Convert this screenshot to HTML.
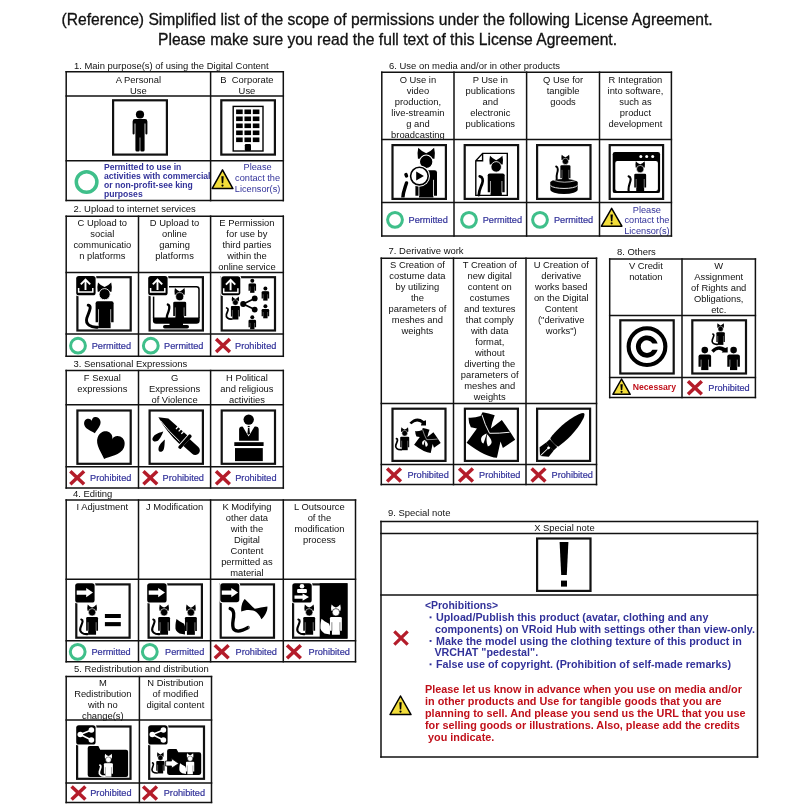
<!DOCTYPE html>
<html><head><meta charset="utf-8"><style>
html,body{margin:0;padding:0;background:#fff;width:810px;height:810px;overflow:hidden}
svg{display:block;font-family:"Liberation Sans",sans-serif;will-change:transform} text{white-space:pre}
</style></head><body>
<svg width="810" height="810" viewBox="0 0 810 810">
<text x="61.5" y="24.8" font-size="15.65" fill="#111" stroke="#111" stroke-width="0.3">(Reference) Simplified list of the scope of permissions under the following License Agreement.</text>
<text x="158" y="45.45" font-size="15.65" fill="#111" stroke="#111" stroke-width="0.3">Please make sure you read the full text of this License Agreement.</text>
<text x="74" y="68.7" font-size="9.45" text-anchor="start" font-weight="normal" fill="#111" >1. Main purpose(s) of using the Digital Content</text>
<text x="73.6" y="211.6" font-size="9.45" text-anchor="start" font-weight="normal" fill="#111" >2. Upload to internet services</text>
<text x="73.5" y="366.6" font-size="9.45" text-anchor="start" font-weight="normal" fill="#111" >3. Sensational Expressions</text>
<text x="73" y="496.8" font-size="9.45" text-anchor="start" font-weight="normal" fill="#111" >4. Editing</text>
<text x="74" y="671.6" font-size="9.45" text-anchor="start" font-weight="normal" fill="#111" >5. Redistribution and distribution</text>
<text x="389" y="68.6" font-size="9.45" text-anchor="start" font-weight="normal" fill="#111" >6. Use on media and/or in other products</text>
<text x="388.6" y="253.6" font-size="9.45" text-anchor="start" font-weight="normal" fill="#111" >7. Derivative work</text>
<text x="617" y="254.5" font-size="9.45" text-anchor="start" font-weight="normal" fill="#111" >8. Others</text>
<text x="388" y="516.4" font-size="9.45" text-anchor="start" font-weight="normal" fill="#111" >9. Special note</text>
<text x="138.4" y="82.8" font-size="9.4" text-anchor="middle" font-weight="normal" fill="#111" >A Personal</text>
<text x="138.4" y="93.8" font-size="9.4" text-anchor="middle" font-weight="normal" fill="#111" >Use</text>
<text x="246.95" y="82.8" font-size="9.4" text-anchor="middle" font-weight="normal" fill="#111" >B  Corporate</text>
<text x="246.95" y="93.8" font-size="9.4" text-anchor="middle" font-weight="normal" fill="#111" >Use</text>
<text x="102.35" y="225.8" font-size="9.4" text-anchor="middle" font-weight="normal" fill="#111" >C Upload to</text>
<text x="102.35" y="236.8" font-size="9.4" text-anchor="middle" font-weight="normal" fill="#111" >social</text>
<text x="102.35" y="247.8" font-size="9.4" text-anchor="middle" font-weight="normal" fill="#111" >communicatio</text>
<text x="102.35" y="258.8" font-size="9.4" text-anchor="middle" font-weight="normal" fill="#111" >n platforms</text>
<text x="174.55" y="225.8" font-size="9.4" text-anchor="middle" font-weight="normal" fill="#111" >D Upload to</text>
<text x="174.55" y="236.8" font-size="9.4" text-anchor="middle" font-weight="normal" fill="#111" >online</text>
<text x="174.55" y="247.8" font-size="9.4" text-anchor="middle" font-weight="normal" fill="#111" >gaming</text>
<text x="174.55" y="258.8" font-size="9.4" text-anchor="middle" font-weight="normal" fill="#111" >platforms</text>
<text x="246.95" y="225.8" font-size="9.4" text-anchor="middle" font-weight="normal" fill="#111" >E Permission</text>
<text x="246.95" y="236.8" font-size="9.4" text-anchor="middle" font-weight="normal" fill="#111" >for use by</text>
<text x="246.95" y="247.8" font-size="9.4" text-anchor="middle" font-weight="normal" fill="#111" >third parties</text>
<text x="246.95" y="258.8" font-size="9.4" text-anchor="middle" font-weight="normal" fill="#111" >within the</text>
<text x="246.95" y="269.8" font-size="9.4" text-anchor="middle" font-weight="normal" fill="#111" >online service</text>
<text x="102.35" y="380.6" font-size="9.4" text-anchor="middle" font-weight="normal" fill="#111" >F Sexual</text>
<text x="102.35" y="391.6" font-size="9.4" text-anchor="middle" font-weight="normal" fill="#111" >expressions</text>
<text x="174.55" y="380.6" font-size="9.4" text-anchor="middle" font-weight="normal" fill="#111" >G</text>
<text x="174.55" y="391.6" font-size="9.4" text-anchor="middle" font-weight="normal" fill="#111" >Expressions</text>
<text x="174.55" y="402.6" font-size="9.4" text-anchor="middle" font-weight="normal" fill="#111" >of Violence</text>
<text x="246.95" y="380.6" font-size="9.4" text-anchor="middle" font-weight="normal" fill="#111" >H Political</text>
<text x="246.95" y="391.6" font-size="9.4" text-anchor="middle" font-weight="normal" fill="#111" >and religious</text>
<text x="246.95" y="402.6" font-size="9.4" text-anchor="middle" font-weight="normal" fill="#111" >activities</text>
<text x="102.35" y="510.4" font-size="9.4" text-anchor="middle" font-weight="normal" fill="#111" >I Adjustment</text>
<text x="174.55" y="510.4" font-size="9.4" text-anchor="middle" font-weight="normal" fill="#111" >J Modification</text>
<text x="246.95" y="510.4" font-size="9.4" text-anchor="middle" font-weight="normal" fill="#111" >K Modifying</text>
<text x="246.95" y="521.4" font-size="9.4" text-anchor="middle" font-weight="normal" fill="#111" >other data</text>
<text x="246.95" y="532.4" font-size="9.4" text-anchor="middle" font-weight="normal" fill="#111" >with the</text>
<text x="246.95" y="543.4" font-size="9.4" text-anchor="middle" font-weight="normal" fill="#111" >Digital</text>
<text x="246.95" y="554.4" font-size="9.4" text-anchor="middle" font-weight="normal" fill="#111" >Content</text>
<text x="246.95" y="565.4" font-size="9.4" text-anchor="middle" font-weight="normal" fill="#111" >permitted as</text>
<text x="246.95" y="576.4" font-size="9.4" text-anchor="middle" font-weight="normal" fill="#111" >material</text>
<text x="319.4" y="510.4" font-size="9.4" text-anchor="middle" font-weight="normal" fill="#111" >L Outsource</text>
<text x="319.4" y="521.4" font-size="9.4" text-anchor="middle" font-weight="normal" fill="#111" >of the</text>
<text x="319.4" y="532.4" font-size="9.4" text-anchor="middle" font-weight="normal" fill="#111" >modification</text>
<text x="319.4" y="543.4" font-size="9.4" text-anchor="middle" font-weight="normal" fill="#111" >process</text>
<text x="102.80000000000001" y="685.6" font-size="9.4" text-anchor="middle" font-weight="normal" fill="#111" >M</text>
<text x="102.80000000000001" y="696.6" font-size="9.4" text-anchor="middle" font-weight="normal" fill="#111" >Redistribution</text>
<text x="102.80000000000001" y="707.6" font-size="9.4" text-anchor="middle" font-weight="normal" fill="#111" >with no</text>
<text x="102.80000000000001" y="718.6" font-size="9.4" text-anchor="middle" font-weight="normal" fill="#111" >change(s)</text>
<text x="175.45" y="685.6" font-size="9.4" text-anchor="middle" font-weight="normal" fill="#111" >N Distribution</text>
<text x="175.45" y="696.6" font-size="9.4" text-anchor="middle" font-weight="normal" fill="#111" >of modified</text>
<text x="175.45" y="707.6" font-size="9.4" text-anchor="middle" font-weight="normal" fill="#111" >digital content</text>
<text x="417.9" y="82.8" font-size="9.4" text-anchor="middle" font-weight="normal" fill="#111" >O Use in</text>
<text x="417.9" y="93.8" font-size="9.4" text-anchor="middle" font-weight="normal" fill="#111" >video</text>
<text x="417.9" y="104.8" font-size="9.4" text-anchor="middle" font-weight="normal" fill="#111" >production,</text>
<text x="417.9" y="115.8" font-size="9.4" text-anchor="middle" font-weight="normal" fill="#111" >live-streamin</text>
<text x="417.9" y="126.8" font-size="9.4" text-anchor="middle" font-weight="normal" fill="#111" >g and</text>
<text x="417.9" y="137.8" font-size="9.4" text-anchor="middle" font-weight="normal" fill="#111" >broadcasting</text>
<text x="490.3" y="82.8" font-size="9.4" text-anchor="middle" font-weight="normal" fill="#111" >P Use in</text>
<text x="490.3" y="93.8" font-size="9.4" text-anchor="middle" font-weight="normal" fill="#111" >publications</text>
<text x="490.3" y="104.8" font-size="9.4" text-anchor="middle" font-weight="normal" fill="#111" >and</text>
<text x="490.3" y="115.8" font-size="9.4" text-anchor="middle" font-weight="normal" fill="#111" >electronic</text>
<text x="490.3" y="126.8" font-size="9.4" text-anchor="middle" font-weight="normal" fill="#111" >publications</text>
<text x="563.05" y="82.8" font-size="9.4" text-anchor="middle" font-weight="normal" fill="#111" >Q Use for</text>
<text x="563.05" y="93.8" font-size="9.4" text-anchor="middle" font-weight="normal" fill="#111" >tangible</text>
<text x="563.05" y="104.8" font-size="9.4" text-anchor="middle" font-weight="normal" fill="#111" >goods</text>
<text x="635.45" y="82.8" font-size="9.4" text-anchor="middle" font-weight="normal" fill="#111" >R Integration</text>
<text x="635.45" y="93.8" font-size="9.4" text-anchor="middle" font-weight="normal" fill="#111" >into software,</text>
<text x="635.45" y="104.8" font-size="9.4" text-anchor="middle" font-weight="normal" fill="#111" >such as</text>
<text x="635.45" y="115.8" font-size="9.4" text-anchor="middle" font-weight="normal" fill="#111" >product</text>
<text x="635.45" y="126.8" font-size="9.4" text-anchor="middle" font-weight="normal" fill="#111" >development</text>
<text x="417.4" y="267.8" font-size="9.4" text-anchor="middle" font-weight="normal" fill="#111" >S Creation of</text>
<text x="417.4" y="278.8" font-size="9.4" text-anchor="middle" font-weight="normal" fill="#111" >costume data</text>
<text x="417.4" y="289.8" font-size="9.4" text-anchor="middle" font-weight="normal" fill="#111" >by utilizing</text>
<text x="417.4" y="300.8" font-size="9.4" text-anchor="middle" font-weight="normal" fill="#111" >the</text>
<text x="417.4" y="311.8" font-size="9.4" text-anchor="middle" font-weight="normal" fill="#111" >parameters of</text>
<text x="417.4" y="322.8" font-size="9.4" text-anchor="middle" font-weight="normal" fill="#111" >meshes and</text>
<text x="417.4" y="333.8" font-size="9.4" text-anchor="middle" font-weight="normal" fill="#111" >weights</text>
<text x="489.75" y="267.8" font-size="9.4" text-anchor="middle" font-weight="normal" fill="#111" >T Creation of</text>
<text x="489.75" y="278.8" font-size="9.4" text-anchor="middle" font-weight="normal" fill="#111" >new digital</text>
<text x="489.75" y="289.8" font-size="9.4" text-anchor="middle" font-weight="normal" fill="#111" >content on</text>
<text x="489.75" y="300.8" font-size="9.4" text-anchor="middle" font-weight="normal" fill="#111" >costumes</text>
<text x="489.75" y="311.8" font-size="9.4" text-anchor="middle" font-weight="normal" fill="#111" >and textures</text>
<text x="489.75" y="322.8" font-size="9.4" text-anchor="middle" font-weight="normal" fill="#111" >that comply</text>
<text x="489.75" y="333.8" font-size="9.4" text-anchor="middle" font-weight="normal" fill="#111" >with data</text>
<text x="489.75" y="344.8" font-size="9.4" text-anchor="middle" font-weight="normal" fill="#111" >format,</text>
<text x="489.75" y="355.8" font-size="9.4" text-anchor="middle" font-weight="normal" fill="#111" >without</text>
<text x="489.75" y="366.8" font-size="9.4" text-anchor="middle" font-weight="normal" fill="#111" >diverting the</text>
<text x="489.75" y="377.8" font-size="9.4" text-anchor="middle" font-weight="normal" fill="#111" >parameters of</text>
<text x="489.75" y="388.8" font-size="9.4" text-anchor="middle" font-weight="normal" fill="#111" >meshes and</text>
<text x="489.75" y="399.8" font-size="9.4" text-anchor="middle" font-weight="normal" fill="#111" >weights</text>
<text x="561.25" y="267.8" font-size="9.4" text-anchor="middle" font-weight="normal" fill="#111" >U Creation of</text>
<text x="561.25" y="278.8" font-size="9.4" text-anchor="middle" font-weight="normal" fill="#111" >derivative</text>
<text x="561.25" y="289.8" font-size="9.4" text-anchor="middle" font-weight="normal" fill="#111" >works based</text>
<text x="561.25" y="300.8" font-size="9.4" text-anchor="middle" font-weight="normal" fill="#111" >on the Digital</text>
<text x="561.25" y="311.8" font-size="9.4" text-anchor="middle" font-weight="normal" fill="#111" >Content</text>
<text x="561.25" y="322.8" font-size="9.4" text-anchor="middle" font-weight="normal" fill="#111" >(&quot;derivative</text>
<text x="561.25" y="333.8" font-size="9.4" text-anchor="middle" font-weight="normal" fill="#111" >works&quot;)</text>
<text x="645.85" y="269.0" font-size="9.4" text-anchor="middle" font-weight="normal" fill="#111" >V Credit</text>
<text x="645.85" y="280.0" font-size="9.4" text-anchor="middle" font-weight="normal" fill="#111" >notation</text>
<text x="718.7" y="269.0" font-size="9.4" text-anchor="middle" font-weight="normal" fill="#111" >W</text>
<text x="718.7" y="280.0" font-size="9.4" text-anchor="middle" font-weight="normal" fill="#111" >Assignment</text>
<text x="718.7" y="291.0" font-size="9.4" text-anchor="middle" font-weight="normal" fill="#111" >of Rights and</text>
<text x="718.7" y="302.0" font-size="9.4" text-anchor="middle" font-weight="normal" fill="#111" >Obligations,</text>
<text x="718.7" y="313.0" font-size="9.4" text-anchor="middle" font-weight="normal" fill="#111" >etc.</text>
<text x="564.4" y="531" font-size="9.4" text-anchor="middle" font-weight="normal" fill="#111" >X Special note</text>
<rect x="113.1" y="100.3" width="53.8" height="54.29999999999998" fill="none" stroke="#111" stroke-width="2.2"/>
<rect x="221.29999999999998" y="100.3" width="53.60000000000001" height="54.29999999999998" fill="none" stroke="#111" stroke-width="2.2"/>
<rect x="77.39999999999999" y="277.20000000000005" width="53.30000000000001" height="53.3" fill="none" stroke="#111" stroke-width="2.2"/>
<rect x="77.39999999999999" y="410.5" width="53.30000000000001" height="53.3" fill="none" stroke="#111" stroke-width="2.2"/>
<rect x="149.6" y="277.20000000000005" width="53.3" height="53.3" fill="none" stroke="#111" stroke-width="2.2"/>
<rect x="149.6" y="410.5" width="53.3" height="53.3" fill="none" stroke="#111" stroke-width="2.2"/>
<rect x="221.7" y="277.20000000000005" width="53.300000000000026" height="53.3" fill="none" stroke="#111" stroke-width="2.2"/>
<rect x="221.7" y="410.5" width="53.300000000000026" height="53.3" fill="none" stroke="#111" stroke-width="2.2"/>
<rect x="76.3" y="584.4" width="53.29999999999998" height="53.3" fill="none" stroke="#111" stroke-width="2.2"/>
<rect x="148.6" y="584.4" width="53.3" height="53.3" fill="none" stroke="#111" stroke-width="2.2"/>
<rect x="220.7" y="584.4" width="53.300000000000026" height="53.3" fill="none" stroke="#111" stroke-width="2.2"/>
<rect x="293.1" y="584.4" width="53.3" height="53.3" fill="none" stroke="#111" stroke-width="2.2"/>
<rect x="77.1" y="726.5" width="53.39999999999999" height="52.3" fill="none" stroke="#111" stroke-width="2.2"/>
<rect x="149.2" y="726.5" width="54.8" height="52.3" fill="none" stroke="#111" stroke-width="2.2"/>
<rect x="392.5" y="145.1" width="53.40000000000002" height="53.8" fill="none" stroke="#111" stroke-width="2.2"/>
<rect x="464.70000000000005" y="145.1" width="53.40000000000002" height="53.8" fill="none" stroke="#111" stroke-width="2.2"/>
<rect x="537.1" y="145.1" width="53.40000000000002" height="53.8" fill="none" stroke="#111" stroke-width="2.2"/>
<rect x="609.7" y="145.1" width="53.40000000000002" height="53.8" fill="none" stroke="#111" stroke-width="2.2"/>
<rect x="392.5" y="408.70000000000005" width="52.999999999999986" height="52.199999999999974" fill="none" stroke="#111" stroke-width="2.2"/>
<rect x="464.90000000000003" y="408.70000000000005" width="52.999999999999986" height="52.199999999999974" fill="none" stroke="#111" stroke-width="2.2"/>
<rect x="537.1" y="408.70000000000005" width="53.00000000000004" height="52.199999999999974" fill="none" stroke="#111" stroke-width="2.2"/>
<rect x="620.3000000000001" y="320.3" width="53.40000000000002" height="53.199999999999974" fill="none" stroke="#111" stroke-width="2.2"/>
<rect x="692.3000000000001" y="320.3" width="53.699999999999974" height="53.199999999999974" fill="none" stroke="#111" stroke-width="2.2"/>
<rect x="537.1" y="538.5" width="53.40000000000002" height="52.40000000000002" fill="none" stroke="#111" stroke-width="2.2"/>
<g transform="translate(140,114.5)"><circle cx="0" cy="0" r="4.1" fill="#000"/><path d="M-7.4,19 V7 Q-7.4,4.6 -5,4.6 H5 Q7.4,4.6 7.4,7 V19 Q7.4,20 6.4,20 Q5.5,20 5.4,19 V9 H4.6 V35.5 Q4.6,37 3,37 H1.6 Q0.3,37 0.3,35.5 V23 H-0.3 V35.5 Q-0.3,37 -1.6,37 H-3 Q-4.6,37 -4.6,35.5 V9 H-5.4 V19 Q-5.5,20 -6.4,20 Q-7.4,20 -7.4,19Z" fill="#000"/></g>
<rect x="233.2" y="106.4" width="29.8" height="44.6" fill="none" stroke="#000" stroke-width="1.4"/>
<rect x="236.1" y="109.5" width="6.6" height="4.6" fill="#000"/>
<rect x="244.45" y="109.5" width="6.6" height="4.6" fill="#000"/>
<rect x="252.79999999999998" y="109.5" width="6.6" height="4.6" fill="#000"/>
<rect x="236.1" y="116.5" width="6.6" height="4.6" fill="#000"/>
<rect x="244.45" y="116.5" width="6.6" height="4.6" fill="#000"/>
<rect x="252.79999999999998" y="116.5" width="6.6" height="4.6" fill="#000"/>
<rect x="236.1" y="123.5" width="6.6" height="4.6" fill="#000"/>
<rect x="244.45" y="123.5" width="6.6" height="4.6" fill="#000"/>
<rect x="252.79999999999998" y="123.5" width="6.6" height="4.6" fill="#000"/>
<rect x="236.1" y="130.5" width="6.6" height="4.6" fill="#000"/>
<rect x="244.45" y="130.5" width="6.6" height="4.6" fill="#000"/>
<rect x="252.79999999999998" y="130.5" width="6.6" height="4.6" fill="#000"/>
<rect x="236.1" y="137.5" width="6.6" height="4.6" fill="#000"/>
<rect x="244.45" y="137.5" width="6.6" height="4.6" fill="#000"/>
<rect x="252.79999999999998" y="137.5" width="6.6" height="4.6" fill="#000"/>
<rect x="244.8" y="144" width="6.2" height="7" rx="1.2" fill="#000"/>
<g transform="translate(104.6,294.2) scale(1.0)"><path d="M-6.6,-11.8 Q-3.4,-8.4 0,-7.2 Q3.4,-8.4 6.6,-11.8 Q7.8,-7 6.9,-2.5 L-6.9,-2.5 Q-7.8,-7 -6.6,-11.8Z" fill="#000"/><circle cx="0" cy="0" r="5.6" fill="#000" stroke="#fff" stroke-width="0.9"/><path d="M-9,28 L-9,9 Q-9,7 -7,7 L7,7 Q9,7 9,9 L9,28 Z" fill="#000"/><rect x="-6" y="8" width="12" height="26" fill="#000"/><path d="M-6.1,15 V28.5 M6.1,15 V28.5" stroke="#fff" stroke-width="0.7"/><path d="M-16.4,11 C-12,12 -16,18 -17.8,24 C-19.5,30 -14,33.5 -7,33" fill="none" stroke="#000" stroke-width="2.9" stroke-linecap="round"/></g>
<rect x="75.3" y="275.0" width="21.2" height="21.2" rx="3.2" fill="#fff"/><rect x="76.2" y="275.9" width="19.4" height="19.4" rx="2.6" fill="#000"/><g transform="translate(76.2,275.9)"></g>
<g transform="translate(76.2,275.9)"><path d="M9.3,14 V4.2 M4.6,8.4 L9.3,3.7 L14,8.4" fill="none" stroke="#fff" stroke-width="1.9" stroke-linejoin="miter"/><path d="M2.4,12 V16.2 H16.6 V12" fill="none" stroke="#fff" stroke-width="1.5"/></g>
<path d="M169,286.8 H196.5 Q199,286.8 199,289.3 V318 M153.6,296.5 V318" fill="none" stroke="#000" stroke-width="1.5"/>
<g transform="translate(179.7,296.6) scale(0.72)"><path d="M-6.6,-11.8 Q-3.4,-8.4 0,-7.2 Q3.4,-8.4 6.6,-11.8 Q7.8,-7 6.9,-2.5 L-6.9,-2.5 Q-7.8,-7 -6.6,-11.8Z" fill="#000"/><circle cx="0" cy="0" r="5.6" fill="#000" stroke="#fff" stroke-width="0.9"/><path d="M-9,27 L-9,9 Q-9,7 -7,7 L7,7 Q9,7 9,9 L9,27 Z" fill="#000"/><rect x="-6" y="8" width="12" height="22" fill="#000"/><path d="M-6.1,15 V27.5 M6.1,15 V27.5" stroke="#fff" stroke-width="0.7"/><path d="M-16.5,11 C-12.5,12 -15,20 -17.5,26 L-18,30" fill="none" stroke="#000" stroke-width="3.2" stroke-linecap="round"/></g>
<path d="M152.9,317.6 H199.7 V320.6 Q199.7,323.8 196.5,323.8 H156.1 Q152.9,323.8 152.9,320.6Z" fill="#000"/>
<rect x="169.5" y="322" width="13.5" height="5" fill="#000"/><rect x="163" y="325" width="26" height="3.6" rx="1.8" fill="#000"/>
<rect x="147.29999999999998" y="275.0" width="21.2" height="21.2" rx="3.2" fill="#fff"/><rect x="148.2" y="275.9" width="19.4" height="19.4" rx="2.6" fill="#000"/><g transform="translate(148.2,275.9)"></g>
<g transform="translate(148.2,275.9)"><path d="M9.3,14 V4.2 M4.6,8.4 L9.3,3.7 L14,8.4" fill="none" stroke="#fff" stroke-width="1.9" stroke-linejoin="miter"/><path d="M2.4,12 V16.2 H16.6 V12" fill="none" stroke="#fff" stroke-width="1.5"/></g>
<rect x="220.4" y="275.3" width="20.8" height="20.8" rx="3.2" fill="#fff"/><rect x="221.3" y="276.2" width="19" height="19" rx="2.6" fill="#000"/><g transform="translate(221.3,276.2)"></g>
<g transform="translate(221.3,276.2)"><path d="M9.3,14 V4.2 M4.6,8.4 L9.3,3.7 L14,8.4" fill="none" stroke="#fff" stroke-width="1.9" stroke-linejoin="miter"/><path d="M2.4,12 V16.2 H16.6 V12" fill="none" stroke="#fff" stroke-width="1.5"/></g>
<g transform="translate(235.4,302.5) scale(0.5)"><path d="M-6.6,-11.8 Q-3.4,-8.4 0,-7.2 Q3.4,-8.4 6.6,-11.8 Q7.8,-7 6.9,-2.5 L-6.9,-2.5 Q-7.8,-7 -6.6,-11.8Z" fill="#000"/><circle cx="0" cy="0" r="5.6" fill="#000" stroke="#fff" stroke-width="0.9"/><path d="M-9,28 L-9,9 Q-9,7 -7,7 L7,7 Q9,7 9,9 L9,28 Z" fill="#000"/><rect x="-6" y="8" width="12" height="26" fill="#000"/><path d="M-6.1,15 V28.5 M6.1,15 V28.5" stroke="#fff" stroke-width="0.7"/><path d="M-17.5,11 C-12,12 -16,18 -18,24 C-19.5,30 -14,33.5 -7,33" fill="none" stroke="#000" stroke-width="3.5" stroke-linecap="round"/></g>
<path d="M243.2,304 L254.7,298.4 M243.2,304 L254.7,309.6" stroke="#000" stroke-width="1.7"/>
<circle cx="243.2" cy="304" r="3" fill="#000"/><circle cx="254.7" cy="298.4" r="2.9" fill="#000"/><circle cx="254.7" cy="309.6" r="2.9" fill="#000"/>
<g transform="translate(252.3,280.8) scale(0.6)"><circle cx="0" cy="0" r="3.3" fill="#000"/><path d="M-6.3,16.6 V6.4 Q-6.3,4.4 -4.3,4.4 H4.3 Q6.3,4.4 6.3,6.4 V16.6Z" fill="#000"/><rect x="-3.6" y="5" width="7.2" height="15" fill="#000"/><path d="M-3.7,9.5 V17 M3.7,9.5 V17" stroke="#fff" stroke-width="0.5"/></g>
<g transform="translate(265.4,288.6) scale(0.6)"><circle cx="0" cy="0" r="3.3" fill="#000"/><path d="M-6.3,16.6 V6.4 Q-6.3,4.4 -4.3,4.4 H4.3 Q6.3,4.4 6.3,6.4 V16.6Z" fill="#000"/><rect x="-3.6" y="5" width="7.2" height="15" fill="#000"/><path d="M-3.7,9.5 V17 M3.7,9.5 V17" stroke="#fff" stroke-width="0.5"/></g>
<g transform="translate(265.4,306.3) scale(0.6)"><circle cx="0" cy="0" r="3.3" fill="#000"/><path d="M-6.3,16.6 V6.4 Q-6.3,4.4 -4.3,4.4 H4.3 Q6.3,4.4 6.3,6.4 V16.6Z" fill="#000"/><rect x="-3.6" y="5" width="7.2" height="15" fill="#000"/><path d="M-3.7,9.5 V17 M3.7,9.5 V17" stroke="#fff" stroke-width="0.5"/></g>
<g transform="translate(252.3,317.2) scale(0.6)"><circle cx="0" cy="0" r="3.3" fill="#000"/><path d="M-6.3,16.6 V6.4 Q-6.3,4.4 -4.3,4.4 H4.3 Q6.3,4.4 6.3,6.4 V16.6Z" fill="#000"/><rect x="-3.6" y="5" width="7.2" height="15" fill="#000"/><path d="M-3.7,9.5 V17 M3.7,9.5 V17" stroke="#fff" stroke-width="0.5"/></g>
<path d="M0,0.9 C-0.25,0.62 -1,0.2 -1,-0.36 C-1,-0.78 -0.72,-1 -0.46,-1 C-0.2,-1 0,-0.82 0,-0.58 C0,-0.82 0.2,-1 0.46,-1 C0.72,-1 1,-0.78 1,-0.36 C1,0.2 0.25,0.62 0,0.9Z" transform="translate(93.1,426.0) rotate(-14) scale(8.3,8.3)" fill="#000"/>
<path d="M0,0.9 C-0.25,0.62 -1,0.2 -1,-0.36 C-1,-0.78 -0.72,-1 -0.46,-1 C-0.2,-1 0,-0.82 0,-0.58 C0,-0.82 0.2,-1 0.46,-1 C0.72,-1 1,-0.78 1,-0.36 C1,0.2 0.25,0.62 0,0.9Z" transform="translate(108.9,447.2) rotate(22) scale(14.1,14.1)" fill="#000"/>
<g transform="translate(158.4,417.2) rotate(42)"><path d="M0,0 L8.2,-5.8 L33.6,-5.8 L33.6,5.9 Q15,5.2 0,0Z" fill="#000"/><path d="M21,-6.5 V-3 M24.6,-6.5 V-3 M28.2,-6.5 V-3" stroke="#fff" stroke-width="1.3"/><path d="M4,1.2 Q17,3.6 32,3.8" fill="none" stroke="#fff" stroke-width="0.9"/><rect x="34.4" y="-8.6" width="3.4" height="18" rx="1.4" fill="#000"/><path d="M37.8,-4.6 H49.6 A4.6,4.6 0 0 1 49.6,4.6 H37.8Z" fill="#000"/></g>
<path d="M163.3,431.6 C161,432.3 156,433.5 153.5,436.5 C151.5,439 152.5,441.5 155.2,441.6 C158.4,441.6 160.5,438.5 163.3,431.6Z" fill="#000"/>
<path d="M164.8,439.6 C162.6,441.5 159,445 158.5,448.5 C158.1,451 159.6,452.1 161.4,451.8 C164,451.2 164.6,447.6 164.8,439.6Z" fill="#000"/>
<circle cx="248.7" cy="419.6" r="5.2" fill="#000"/>
<path d="M239.1,440.8 V429.5 Q239.1,426.4 242.2,426.4 H255.6 Q258.7,426.4 258.7,429.5 V440.8Z" fill="#000"/>
<path d="M242.2,425.8 L248.6,436.6 L255,425.8Z" fill="#fff"/>
<rect x="247.7" y="425.9" width="2" height="1.3" fill="#000"/><path d="M248,428 H249.4 L249.9,433.2 L248.7,435 L247.5,433.2Z" fill="#000"/>
<rect x="234.3" y="442.2" width="29.3" height="3.8" fill="#000"/>
<rect x="235" y="448.1" width="27.8" height="13" fill="#000"/>
<g transform="translate(92.1,612.3) scale(0.66)"><path d="M-6.6,-11.8 Q-3.4,-8.4 0,-7.2 Q3.4,-8.4 6.6,-11.8 Q7.8,-7 6.9,-2.5 L-6.9,-2.5 Q-7.8,-7 -6.6,-11.8Z" fill="#000"/><circle cx="0" cy="0" r="5.6" fill="#000" stroke="#fff" stroke-width="0.9"/><path d="M-9,28 L-9,9 Q-9,7 -7,7 L7,7 Q9,7 9,9 L9,28 Z" fill="#000"/><rect x="-6" y="8" width="12" height="26" fill="#000"/><path d="M-6.1,15 V28.5 M6.1,15 V28.5" stroke="#fff" stroke-width="0.7"/><path d="M-16.4,11 C-12,12 -16,18 -17.8,24 C-19.5,30 -14,33.5 -7,33" fill="none" stroke="#000" stroke-width="3.2" stroke-linecap="round"/></g>
<rect x="104.9" y="614" width="15.9" height="4" fill="#000"/><rect x="104.9" y="622.1" width="15.9" height="4.1" fill="#000"/>
<rect x="74.3" y="582.3000000000001" width="21.2" height="21.2" rx="3.2" fill="#fff"/><rect x="75.2" y="583.2" width="19.4" height="19.4" rx="2.6" fill="#000"/><g transform="translate(75.2,583.2)"></g>
<g transform="translate(75.2,583.2)"><path d="M1.5,7.4 H11 V4.8 L17.8,9.4 L11,14 V11.5 H1.5Z" fill="#fff"/></g>
<g transform="translate(164.1,612.3) scale(0.66)"><path d="M-6.6,-11.8 Q-3.4,-8.4 0,-7.2 Q3.4,-8.4 6.6,-11.8 Q7.8,-7 6.9,-2.5 L-6.9,-2.5 Q-7.8,-7 -6.6,-11.8Z" fill="#000"/><circle cx="0" cy="0" r="5.6" fill="#000" stroke="#fff" stroke-width="0.9"/><path d="M-9,28 L-9,9 Q-9,7 -7,7 L7,7 Q9,7 9,9 L9,28 Z" fill="#000"/><rect x="-6" y="8" width="12" height="26" fill="#000"/><path d="M-6.1,15 V28.5 M6.1,15 V28.5" stroke="#fff" stroke-width="0.7"/><path d="M-16.4,11 C-12,12 -16,18 -17.8,24 C-19.5,30 -14,33.5 -7,33" fill="none" stroke="#000" stroke-width="3.2" stroke-linecap="round"/></g>
<g transform="translate(190.9,612.4) scale(0.66)"><path d="M-6.6,-11.8 Q-3.4,-8.4 0,-7.2 Q3.4,-8.4 6.6,-11.8 Q7.8,-7 6.9,-2.5 L-6.9,-2.5 Q-7.8,-7 -6.6,-11.8Z" fill="#000"/><circle cx="0" cy="0" r="5.6" fill="#000" stroke="#fff" stroke-width="0.9"/><path d="M-9,28 L-9,9 Q-9,7 -7,7 L7,7 Q9,7 9,9 L9,28 Z" fill="#000"/><rect x="-6" y="8" width="12" height="26" fill="#000"/><path d="M-6.1,15 V28.5 M6.1,15 V28.5" stroke="#fff" stroke-width="0.7"/><path d="M-21.8,9.9 L-17.2,13.4 L-10.4,17.2 L-9,21 L-9,33.5 L-17.2,32 C-22,29 -24,26 -23.4,22 C-23.5,17 -22.6,13 -21.8,9.9Z" fill="#000"/></g>
<rect x="146.29999999999998" y="582.3000000000001" width="21.2" height="21.2" rx="3.2" fill="#fff"/><rect x="147.2" y="583.2" width="19.4" height="19.4" rx="2.6" fill="#000"/><g transform="translate(147.2,583.2)"></g>
<g transform="translate(147.2,583.2)"><path d="M1.5,7.4 H11 V4.8 L17.8,9.4 L11,14 V11.5 H1.5Z" fill="#fff"/></g>
<rect x="219.4" y="582.3000000000001" width="20.8" height="20.8" rx="3.2" fill="#fff"/><rect x="220.3" y="583.2" width="19" height="19" rx="2.6" fill="#000"/><g transform="translate(220.3,583.2)"></g>
<g transform="translate(220.3,583.2)"><path d="M1.5,7.4 H11 V4.8 L17.8,9.4 L11,14 V11.5 H1.5Z" fill="#fff"/></g>
<path d="M241.2,611.6 C241,606 242.5,601 244.8,599 C247.5,601.5 251.5,606 254.8,608.8 C258.5,608 263,606.8 267.4,606.4 C267.8,611 264.5,616.5 261.4,619.2 C259.5,615 256.5,611.5 253,610.5 C249,609.5 244.5,610 241.2,611.6Z" fill="#000"/>
<path d="M230.2,608.6 C233,609.2 234.2,612 233.6,617 C233,621.5 231.5,626.5 234,629.5 C237,632.5 243,630.5 248.2,627.6" fill="none" stroke="#000" stroke-width="3.4" stroke-linecap="round"/>
<path d="M248.5,626.5 L249.2,629 M249.8,626.2 L250.4,628.6" stroke="#fff" stroke-width="0.5"/>
<rect x="319.7" y="583.2" width="27.8" height="55.2" fill="#000"/>
<g transform="translate(309.2,612.3) scale(0.66)"><path d="M-6.6,-11.8 Q-3.4,-8.4 0,-7.2 Q3.4,-8.4 6.6,-11.8 Q7.8,-7 6.9,-2.5 L-6.9,-2.5 Q-7.8,-7 -6.6,-11.8Z" fill="#000"/><circle cx="0" cy="0" r="5.6" fill="#000" stroke="#fff" stroke-width="0.9"/><path d="M-9,28 L-9,9 Q-9,7 -7,7 L7,7 Q9,7 9,9 L9,28 Z" fill="#000"/><rect x="-6" y="8" width="12" height="26" fill="#000"/><path d="M-6.1,15 V28.5 M6.1,15 V28.5" stroke="#fff" stroke-width="0.7"/><path d="M-16.4,11 C-12,12 -16,18 -17.8,24 C-19.5,30 -14,33.5 -7,33" fill="none" stroke="#000" stroke-width="3.2" stroke-linecap="round"/></g>
<g transform="translate(335.9,612.3) scale(0.66)"><path d="M-6.6,-11.8 Q-3.4,-8.4 0,-7.2 Q3.4,-8.4 6.6,-11.8 Q7.8,-7 6.9,-2.5 L-6.9,-2.5 Q-7.8,-7 -6.6,-11.8Z" fill="#fff"/><circle cx="0" cy="0" r="5.6" fill="#fff" stroke="#000" stroke-width="0.9"/><path d="M-9,28 L-9,9 Q-9,7 -7,7 L7,7 Q9,7 9,9 L9,28 Z" fill="#fff"/><rect x="-6" y="8" width="12" height="26" fill="#fff"/><path d="M-6.1,15 V28.5 M6.1,15 V28.5" stroke="#000" stroke-width="0.7"/><path d="M-21.8,9.9 L-17.2,13.4 L-10.4,17.2 L-9,21 L-9,33.5 L-17.2,32 C-22,29 -24,26 -23.4,22 C-23.5,17 -22.6,13 -21.8,9.9Z" fill="#fff"/></g>
<rect x="291.40000000000003" y="582.3000000000001" width="21.2" height="21.2" rx="3.2" fill="#fff"/><rect x="292.3" y="583.2" width="19.4" height="19.4" rx="2.6" fill="#000"/><g transform="translate(292.3,583.2)"></g>
<g transform="translate(292.3,583.2)"><circle cx="9.7" cy="3" r="2.3" fill="#fff"/><rect x="4.8" y="5.9" width="9.8" height="3.9" rx="1" fill="#fff"/><path d="M2.2,12.3 H10.3 V10.3 L16.7,13.9 L10.3,17.5 V15.5 H2.2Z" fill="#fff"/></g>
<path d="M87.7,748 Q87.7,746 89.7,746 H98.4 L100.2,749.7 H126.1 Q128.1,749.7 128.1,751.7 V775 Q128.1,777 126.1,777 H89.7 Q87.7,777 87.7,775Z" fill="#000"/>
<g transform="translate(108.4,759.7) scale(0.5)"><path d="M-6.6,-11.8 Q-3.4,-8.4 0,-7.2 Q3.4,-8.4 6.6,-11.8 Q7.8,-7 6.9,-2.5 L-6.9,-2.5 Q-7.8,-7 -6.6,-11.8Z" fill="#fff"/><circle cx="0" cy="0" r="5.6" fill="#fff" stroke="#000" stroke-width="0.9"/><path d="M-9,28 L-9,9 Q-9,7 -7,7 L7,7 Q9,7 9,9 L9,28 Z" fill="#fff"/><rect x="-6" y="8" width="12" height="26" fill="#fff"/><path d="M-6.1,15 V28.5 M6.1,15 V28.5" stroke="#000" stroke-width="0.7"/><path d="M-17,11 C-13,12 -16.5,18 -18,24 C-19.5,30 -14,33.5 -7,33" fill="none" stroke="#fff" stroke-width="3.5" stroke-linecap="round"/></g>
<rect x="75.3" y="724.3000000000001" width="21.2" height="21.2" rx="3.2" fill="#fff"/><rect x="76.2" y="725.2" width="19.4" height="19.4" rx="2.6" fill="#000"/><g transform="translate(76.2,725.2)"></g>
<g transform="translate(76.2,725.2)"><path d="M4.1,9.3 L15.2,4.8 M4.1,9.3 L15.2,14.8" stroke="#fff" stroke-width="1.6"/><circle cx="4.1" cy="9.3" r="2.8" fill="#fff"/><circle cx="15.2" cy="4.8" r="2.8" fill="#fff"/><circle cx="15.2" cy="14.8" r="2.8" fill="#fff"/></g>
<path d="M167.1,751 Q167.1,748.9 169.2,748.9 H176.5 L178.3,752.3 H199.1 Q201.2,752.3 201.2,754.4 V772.8 Q201.2,774.9 199.1,774.9 H169.2 Q167.1,774.9 167.1,772.8Z" fill="#000"/>
<g transform="translate(160.4,757.8) scale(0.46)"><path d="M-6.6,-11.8 Q-3.4,-8.4 0,-7.2 Q3.4,-8.4 6.6,-11.8 Q7.8,-7 6.9,-2.5 L-6.9,-2.5 Q-7.8,-7 -6.6,-11.8Z" fill="#000"/><circle cx="0" cy="0" r="5.6" fill="#000" stroke="#fff" stroke-width="0.9"/><path d="M-9,28 L-9,9 Q-9,7 -7,7 L7,7 Q9,7 9,9 L9,28 Z" fill="#000"/><rect x="-6" y="8" width="12" height="26" fill="#000"/><path d="M-6.1,15 V28.5 M6.1,15 V28.5" stroke="#fff" stroke-width="0.7"/><path d="M-17,11 C-13,12 -16.5,18 -18,24 C-19.5,30 -14,33.5 -7,33" fill="none" stroke="#000" stroke-width="3.5" stroke-linecap="round"/></g>
<path d="M165.6,761 H171.6 V758.6 L178.8,763.5 L171.6,768.2 V766 H165.6Z" fill="#fff" stroke="#000" stroke-width="0.8"/>
<g transform="translate(190.1,758.6) scale(0.46)"><path d="M-6.6,-11.8 Q-3.4,-8.4 0,-7.2 Q3.4,-8.4 6.6,-11.8 Q7.8,-7 6.9,-2.5 L-6.9,-2.5 Q-7.8,-7 -6.6,-11.8Z" fill="#fff"/><circle cx="0" cy="0" r="5.6" fill="#fff" stroke="#000" stroke-width="0.9"/><path d="M-9,28 L-9,9 Q-9,7 -7,7 L7,7 Q9,7 9,9 L9,28 Z" fill="#fff"/><rect x="-6" y="8" width="12" height="26" fill="#fff"/><path d="M-6.1,15 V28.5 M6.1,15 V28.5" stroke="#000" stroke-width="0.7"/><path d="M-21.8,9.9 L-17.2,13.4 L-10.4,17.2 L-9,21 L-9,33.5 L-17.2,32 C-22,29 -24,26 -23.4,22 C-23.5,17 -22.6,13 -21.8,9.9Z" fill="#fff"/></g>
<rect x="147.29999999999998" y="724.3000000000001" width="21.2" height="21.2" rx="3.2" fill="#fff"/><rect x="148.2" y="725.2" width="19.4" height="19.4" rx="2.6" fill="#000"/><g transform="translate(148.2,725.2)"></g>
<g transform="translate(148.2,725.2)"><path d="M4.1,9.3 L15.2,4.8 M4.1,9.3 L15.2,14.8" stroke="#fff" stroke-width="1.6"/><circle cx="4.1" cy="9.3" r="2.8" fill="#fff"/><circle cx="15.2" cy="4.8" r="2.8" fill="#fff"/><circle cx="15.2" cy="14.8" r="2.8" fill="#fff"/></g>
<clipPath id="cO"><rect x="393" y="146" width="52" height="51.6"/></clipPath>
<g clip-path="url(#cO)"><g transform="translate(426.2,161.8) scale(1.2)"><path d="M-6.6,-11.8 Q-3.4,-8.4 0,-7.2 Q3.4,-8.4 6.6,-11.8 Q7.8,-7 6.9,-2.5 L-6.9,-2.5 Q-7.8,-7 -6.6,-11.8Z" fill="#000"/><circle cx="0" cy="0" r="5.6" fill="#000" stroke="#fff" stroke-width="0.9"/><path d="M-9,28.2 L-9,9 Q-9,7 -7,7 L7,7 Q9,7 9,9 L9,28.2 Z" fill="#000"/><rect x="-6" y="8" width="12" height="32" fill="#000"/><path d="M-6.1,15 V28.7 M6.1,15 V28.7" stroke="#fff" stroke-width="0.7"/></g><path d="M406,174.6 L406.5,176 M406.5,183 C405,188 403,192 402.8,198" fill="none" stroke="#000" stroke-width="3.4" stroke-linecap="round"/></g>
<circle cx="419.4" cy="176.1" r="10.6" fill="#fff"/>
<circle cx="419.4" cy="176.1" r="8.8" fill="#fff" stroke="#000" stroke-width="1.6"/>
<path d="M416.2,171.6 L423.9,176.1 L416.2,180.6Z" fill="#000"/>
<path d="M482.6,153.4 H507.3 V195.4 H475.8 V160.8Z M475.8,160.8 H482.6 V153.4" fill="#fff" stroke="#000" stroke-width="1.4" stroke-linejoin="miter"/>
<g transform="translate(496.2,166.9) scale(0.94)"><path d="M-6.6,-11.8 Q-3.4,-8.4 0,-7.2 Q3.4,-8.4 6.6,-11.8 Q7.8,-7 6.9,-2.5 L-6.9,-2.5 Q-7.8,-7 -6.6,-11.8Z" fill="#000"/><circle cx="0" cy="0" r="5.6" fill="#000" stroke="#fff" stroke-width="0.9"/><path d="M-9,27 L-9,9 Q-9,7 -7,7 L7,7 Q9,7 9,9 L9,27 Z" fill="#000"/><rect x="-6" y="8" width="12" height="22.5" fill="#000"/><path d="M-6.1,15 V27.5 M6.1,15 V27.5" stroke="#fff" stroke-width="0.7"/><path d="M-17.5,10 C-14.5,10.5 -13.5,14 -15,18 C-16.5,22 -18.5,25 -18.5,30" fill="none" stroke="#000" stroke-width="2.9" stroke-linecap="round"/></g>
<path d="M550.3,182.4 V189.8 A13.7,4.2 0 0 0 577.7,189.8 V182.4Z" fill="#000"/>
<ellipse cx="564" cy="182.4" rx="13.7" ry="3.5" fill="#000"/>
<path d="M550.6,185.6 A13.7,3.6 0 0 0 577.4,185.6" fill="none" stroke="#fff" stroke-width="0.9"/>
<g transform="translate(565.4,161.4) scale(0.56)"><path d="M-6.6,-11.8 Q-3.4,-8.4 0,-7.2 Q3.4,-8.4 6.6,-11.8 Q7.8,-7 6.9,-2.5 L-6.9,-2.5 Q-7.8,-7 -6.6,-11.8Z" fill="#000"/><circle cx="0" cy="0" r="5.6" fill="#000" stroke="#fff" stroke-width="0.9"/><path d="M-9,30 L-9,9 Q-9,7 -7,7 L7,7 Q9,7 9,9 L9,30 Z" fill="#000"/><rect x="-6" y="8" width="12" height="27" fill="#000"/><path d="M-6.1,15 V30.5 M6.1,15 V30.5" stroke="#fff" stroke-width="0.7"/><path d="M-16.5,9 C-13,10 -12.8,16 -15,22 C-16,25 -16,28 -15.5,33" fill="none" stroke="#000" stroke-width="3.5" stroke-linecap="round"/></g>
<path d="M553.5,180.3 Q564,184 576,180.5" fill="none" stroke="#fff" stroke-width="0.7"/>
<rect x="612.7" y="152" width="47.4" height="41.1" rx="2.2" fill="#000"/>
<rect x="615.3" y="160.9" width="42.6" height="30" rx="2" fill="#fff"/>
<circle cx="640.8" cy="156.4" r="1.5" fill="#fff"/><circle cx="646.7" cy="156.4" r="1.5" fill="#fff"/><circle cx="652.7" cy="156.4" r="1.5" fill="#fff"/>
<clipPath id="cR"><rect x="615.3" y="158" width="42.6" height="32.9"/></clipPath>
<g clip-path="url(#cR)"><g transform="translate(640.2,169.1) scale(0.66)"><path d="M-6.6,-11.8 Q-3.4,-8.4 0,-7.2 Q3.4,-8.4 6.6,-11.8 Q7.8,-7 6.9,-2.5 L-6.9,-2.5 Q-7.8,-7 -6.6,-11.8Z" fill="#000"/><circle cx="0" cy="0" r="5.6" fill="#000" stroke="#fff" stroke-width="0.9"/><path d="M-9,28 L-9,9 Q-9,7 -7,7 L7,7 Q9,7 9,9 L9,28 Z" fill="#000"/><rect x="-6" y="8" width="12" height="28" fill="#000"/><path d="M-6.1,15 V28.5 M6.1,15 V28.5" stroke="#fff" stroke-width="0.7"/><path d="M-17.5,11 C-13.5,12 -14,17 -16,22 C-17.5,26 -18,29 -17.5,33" fill="none" stroke="#000" stroke-width="3.2" stroke-linecap="round"/></g></g>
<g transform="translate(404.7,433.2) scale(0.5)"><path d="M-6.6,-11.8 Q-3.4,-8.4 0,-7.2 Q3.4,-8.4 6.6,-11.8 Q7.8,-7 6.9,-2.5 L-6.9,-2.5 Q-7.8,-7 -6.6,-11.8Z" fill="#000"/><circle cx="0" cy="0" r="5.6" fill="#000" stroke="#fff" stroke-width="0.9"/><path d="M-9,28 L-9,9 Q-9,7 -7,7 L7,7 Q9,7 9,9 L9,28 Z" fill="#000"/><rect x="-6" y="8" width="12" height="26" fill="#000"/><path d="M-6.1,15 V28.5 M6.1,15 V28.5" stroke="#fff" stroke-width="0.7"/><path d="M-16.4,11 C-12,12 -16,18 -17.8,24 C-19.5,30 -14,33.5 -7,33" fill="none" stroke="#000" stroke-width="3.5" stroke-linecap="round"/></g>
<path d="M409.4,422.8 Q416.5,415.2 423.8,420.9 L426,420.2 L426,425.4 L420.9,425.4 L421.6,423.1 Q416.5,419.2 411.4,424.2Z" fill="#000"/>
<g transform="translate(460.5,405) scale(0.07407407407407407)"><path d="M108,172 Q190,178 270,150 L298,98 Q380,112 462,138 Q425,230 410,318 L558,203 Q650,330 738,468 L572,582 L540,492 L492,712 Q330,700 82,508 L222,318 L140,302 Q108,240 108,172Z" fill="#000"/><path d="M290,132 Q330,270 392,382 Q520,385 662,368" fill="none" stroke="#fff" stroke-width="13"/><path d="M355,385 C300,400 270,440 280,480 C285,510 300,520 310,520 C330,470 340,430 355,385Z M360,395 C380,420 420,460 420,500 C420,535 380,560 370,560 C345,500 350,440 360,395Z" fill="#fff"/></g>
<g transform="translate(410.798,424.1525) scale(0.0405)"><path d="M108,172 Q190,178 270,150 L298,98 Q380,112 462,138 Q425,230 410,318 L558,203 Q650,330 738,468 L572,582 L540,492 L492,712 Q330,700 82,508 L222,318 L140,302 Q108,240 108,172Z" fill="#000"/><path d="M290,132 Q330,270 392,382 Q520,385 662,368" fill="none" stroke="#fff" stroke-width="13"/><path d="M355,385 C300,400 270,440 280,480 C285,510 300,520 310,520 C330,470 340,430 355,385Z M360,395 C380,420 420,460 420,500 C420,535 380,560 370,560 C345,500 350,440 360,395Z" fill="#fff"/></g>
<g transform="translate(540,456.1) rotate(-44)"><path d="M0,0 L5.8,-6.6 L13.4,-5.6 L13.4,5.6 L5.8,6.6Z" fill="#000"/><path d="M0.5,0 H12" stroke="#fff" stroke-width="1"/><circle cx="12" cy="0" r="1.4" fill="#fff"/><rect x="13.2" y="-5.4" width="5.6" height="10.8" fill="#000"/><path d="M20,-5.8 C28,-7.4 45,-7.6 57,-3.2 Q61.5,-1.2 61.5,0 Q61.5,1.2 57,3.2 C45,7.6 28,7.4 20,5.8 Q18.8,5.2 18.8,0 Q18.8,-5.2 20,-5.8Z" fill="#000"/></g>
<circle cx="647" cy="346.6" r="18.35" fill="none" stroke="#000" stroke-width="4.1"/>
<path d="M657.64,343.45 A11.1,11.1 0 1 0 657.64,349.75 L652.46,349.75 A6.3,6.3 0 1 1 652.46,343.45Z" fill="#000"/>
<g transform="translate(720.6,328.9) scale(0.47)"><path d="M-6.6,-11.8 Q-3.4,-8.4 0,-7.2 Q3.4,-8.4 6.6,-11.8 Q7.8,-7 6.9,-2.5 L-6.9,-2.5 Q-7.8,-7 -6.6,-11.8Z" fill="#000"/><circle cx="0" cy="0" r="5.6" fill="#000" stroke="#fff" stroke-width="0.9"/><path d="M-9,28 L-9,9 Q-9,7 -7,7 L7,7 Q9,7 9,9 L9,28 Z" fill="#000"/><rect x="-6" y="8" width="12" height="26" fill="#000"/><path d="M-6.1,15 V28.5 M6.1,15 V28.5" stroke="#fff" stroke-width="0.7"/><path d="M-16.4,11 C-12,12 -16,18 -17.8,24 C-19.5,30 -14,33.5 -7,33" fill="none" stroke="#000" stroke-width="3.5" stroke-linecap="round"/></g>
<path d="M711.2,350.3 Q718,343.6 725.3,347.9 L727.7,346.9 L727.7,352.6 L721.8,352.6 L722.6,351.2 Q717.8,347.4 713.6,352.8Z" fill="#000"/>
<g transform="translate(704.8,350.1) scale(1.0)"><circle cx="0" cy="0" r="3.3" fill="#000"/><path d="M-6.3,16.6 V6.4 Q-6.3,4.4 -4.3,4.4 H4.3 Q6.3,4.4 6.3,6.4 V16.6Z" fill="#000"/><rect x="-3.6" y="5" width="7.2" height="15" fill="#000"/><path d="M-3.7,9.5 V17 M3.7,9.5 V17" stroke="#fff" stroke-width="0.5"/></g>
<g transform="translate(733.6,350.1) scale(1.0)"><circle cx="0" cy="0" r="3.3" fill="#000"/><path d="M-6.3,16.6 V6.4 Q-6.3,4.4 -4.3,4.4 H4.3 Q6.3,4.4 6.3,6.4 V16.6Z" fill="#000"/><rect x="-3.6" y="5" width="7.2" height="15" fill="#000"/><path d="M-3.7,9.5 V17 M3.7,9.5 V17" stroke="#fff" stroke-width="0.5"/></g>
<path d="M559.6,542 H568.4 L566.8,575 H561.2Z" fill="#000"/><rect x="561" y="580.6" width="6" height="6" fill="#000"/>
<circle cx="86.6" cy="182" r="10.3" fill="none" stroke="#3fbf8a" stroke-width="3.5"/>
<text x="104" y="170.4" font-size="8.6" text-anchor="start" font-weight="bold" fill="#32329a" >Permitted to use in</text>
<text x="104" y="179.15" font-size="8.6" text-anchor="start" font-weight="bold" fill="#32329a" >activities with commercial</text>
<text x="104" y="187.9" font-size="8.6" text-anchor="start" font-weight="bold" fill="#32329a" >or non-profit-see king</text>
<text x="104" y="196.65" font-size="8.6" text-anchor="start" font-weight="bold" fill="#32329a" >purposes</text>
<path d="M222.5,169.9 L232.9,188.6 L212.1,188.6Z" fill="#f2dd3a" stroke="#000" stroke-width="1.5" stroke-linejoin="round"/>
<path d="M221.3,176.258 H223.7 L223.2,183.364 H221.8Z" fill="#000"/><circle cx="222.5" cy="185.608" r="1.1" fill="#000"/>
<text x="257.6" y="169.9" font-size="9.2" text-anchor="middle" font-weight="normal" fill="#32329a" >Please</text>
<text x="257.6" y="180.75" font-size="9.2" text-anchor="middle" font-weight="normal" fill="#32329a" >contact the</text>
<text x="257.6" y="191.6" font-size="9.2" text-anchor="middle" font-weight="normal" fill="#32329a" >Licensor(s)</text>
<circle cx="78.0" cy="345.70000000000005" r="7.4" fill="none" stroke="#3fbf8a" stroke-width="3.0"/>
<text x="91.7" y="348.90000000000003" font-size="9.2" text-anchor="start" font-weight="normal" fill="#32329a" stroke="#32329a" stroke-width="0.2">Permitted</text>
<circle cx="150.8" cy="345.70000000000005" r="7.4" fill="none" stroke="#3fbf8a" stroke-width="3.0"/>
<text x="164.1" y="348.90000000000003" font-size="9.2" text-anchor="start" font-weight="normal" fill="#32329a" stroke="#32329a" stroke-width="0.2">Permitted</text>
<path d="M216.10000000000002,339.0 L229.89999999999998,352.0 M229.89999999999998,339.0 L216.10000000000002,352.0" stroke="#b41c2a" stroke-width="3.5" stroke-linecap="butt"/>
<text x="235.0" y="348.7" font-size="9.2" text-anchor="start" font-weight="normal" fill="#32329a" stroke="#32329a" stroke-width="0.2">Prohibited</text>
<path d="M70.3,471.25 L84.10000000000001,484.25 M84.10000000000001,471.25 L70.3,484.25" stroke="#b41c2a" stroke-width="3.5" stroke-linecap="butt"/>
<text x="90.0" y="480.95" font-size="9.2" text-anchor="start" font-weight="normal" fill="#32329a" stroke="#32329a" stroke-width="0.2">Prohibited</text>
<path d="M143.40000000000003,471.25 L157.2,484.25 M157.2,471.25 L143.40000000000003,484.25" stroke="#b41c2a" stroke-width="3.5" stroke-linecap="butt"/>
<text x="162.6" y="480.95" font-size="9.2" text-anchor="start" font-weight="normal" fill="#32329a" stroke="#32329a" stroke-width="0.2">Prohibited</text>
<path d="M216.00000000000003,471.25 L229.79999999999998,484.25 M229.79999999999998,471.25 L216.00000000000003,484.25" stroke="#b41c2a" stroke-width="3.5" stroke-linecap="butt"/>
<text x="235.2" y="480.95" font-size="9.2" text-anchor="start" font-weight="normal" fill="#32329a" stroke="#32329a" stroke-width="0.2">Prohibited</text>
<circle cx="77.7" cy="651.85" r="7.4" fill="none" stroke="#3fbf8a" stroke-width="3.0"/>
<text x="91.4" y="655.0500000000001" font-size="9.2" text-anchor="start" font-weight="normal" fill="#32329a" stroke="#32329a" stroke-width="0.2">Permitted</text>
<circle cx="149.8" cy="651.85" r="7.4" fill="none" stroke="#3fbf8a" stroke-width="3.0"/>
<text x="165.0" y="655.0500000000001" font-size="9.2" text-anchor="start" font-weight="normal" fill="#32329a" stroke="#32329a" stroke-width="0.2">Permitted</text>
<path d="M214.8,645.15 L228.59999999999997,658.15 M228.59999999999997,645.15 L214.8,658.15" stroke="#b41c2a" stroke-width="3.5" stroke-linecap="butt"/>
<text x="235.5" y="654.85" font-size="9.2" text-anchor="start" font-weight="normal" fill="#32329a" stroke="#32329a" stroke-width="0.2">Prohibited</text>
<path d="M287.00000000000006,645.15 L300.8,658.15 M300.8,645.15 L287.00000000000006,658.15" stroke="#b41c2a" stroke-width="3.5" stroke-linecap="butt"/>
<text x="308.5" y="654.85" font-size="9.2" text-anchor="start" font-weight="normal" fill="#32329a" stroke="#32329a" stroke-width="0.2">Prohibited</text>
<path d="M71.6,786.6 L85.4,799.6 M85.4,786.6 L71.6,799.6" stroke="#b41c2a" stroke-width="3.5" stroke-linecap="butt"/>
<text x="90.2" y="796.3000000000001" font-size="9.2" text-anchor="start" font-weight="normal" fill="#32329a" stroke="#32329a" stroke-width="0.2">Prohibited</text>
<path d="M143.10000000000002,786.6 L156.89999999999998,799.6 M156.89999999999998,786.6 L143.10000000000002,799.6" stroke="#b41c2a" stroke-width="3.5" stroke-linecap="butt"/>
<text x="163.70000000000002" y="796.3000000000001" font-size="9.2" text-anchor="start" font-weight="normal" fill="#32329a" stroke="#32329a" stroke-width="0.2">Prohibited</text>
<circle cx="395.0" cy="219.85" r="7.4" fill="none" stroke="#3fbf8a" stroke-width="3.0"/>
<text x="408.5" y="223.04999999999998" font-size="9.2" text-anchor="start" font-weight="normal" fill="#32329a" stroke="#32329a" stroke-width="0.2">Permitted</text>
<circle cx="469.0" cy="219.85" r="7.4" fill="none" stroke="#3fbf8a" stroke-width="3.0"/>
<text x="482.7" y="223.04999999999998" font-size="9.2" text-anchor="start" font-weight="normal" fill="#32329a" stroke="#32329a" stroke-width="0.2">Permitted</text>
<circle cx="540.0" cy="219.85" r="7.4" fill="none" stroke="#3fbf8a" stroke-width="3.0"/>
<text x="553.9" y="223.04999999999998" font-size="9.2" text-anchor="start" font-weight="normal" fill="#32329a" stroke="#32329a" stroke-width="0.2">Permitted</text>
<path d="M611.65,208.4 L621.9,226.20000000000002 L601.4,226.20000000000002Z" fill="#f2dd3a" stroke="#000" stroke-width="1.5" stroke-linejoin="round"/>
<path d="M610.4499999999999,214.452 H612.85 L612.35,221.216 H610.9499999999999Z" fill="#000"/><circle cx="611.65" cy="223.352" r="1.1" fill="#000"/>
<text x="646.9" y="212.8" font-size="9.2" text-anchor="middle" font-weight="normal" fill="#32329a" >Please</text>
<text x="646.9" y="223.4" font-size="9.2" text-anchor="middle" font-weight="normal" fill="#32329a" >contact the</text>
<text x="646.9" y="234.0" font-size="9.2" text-anchor="middle" font-weight="normal" fill="#32329a" >Licensor(s)</text>
<path d="M387.1,468.5 L400.9,481.5 M400.9,468.5 L387.1,481.5" stroke="#b41c2a" stroke-width="3.5" stroke-linecap="butt"/>
<text x="407.40000000000003" y="478.2" font-size="9.2" text-anchor="start" font-weight="normal" fill="#32329a" stroke="#32329a" stroke-width="0.2">Prohibited</text>
<path d="M459.1,468.5 L472.9,481.5 M472.9,468.5 L459.1,481.5" stroke="#b41c2a" stroke-width="3.5" stroke-linecap="butt"/>
<text x="479.0" y="478.2" font-size="9.2" text-anchor="start" font-weight="normal" fill="#32329a" stroke="#32329a" stroke-width="0.2">Prohibited</text>
<path d="M531.5999999999999,468.5 L545.4000000000001,481.5 M545.4000000000001,468.5 L531.5999999999999,481.5" stroke="#b41c2a" stroke-width="3.5" stroke-linecap="butt"/>
<text x="551.5" y="478.2" font-size="9.2" text-anchor="start" font-weight="normal" fill="#32329a" stroke="#32329a" stroke-width="0.2">Prohibited</text>
<path d="M621.55,379 L630.1999999999999,394.3 L612.9,394.3Z" fill="#f2dd3a" stroke="#000" stroke-width="1.5" stroke-linejoin="round"/>
<path d="M620.3499999999999,384.202 H622.75 L622.25,390.016 H620.8499999999999Z" fill="#000"/><circle cx="621.55" cy="391.852" r="1.1" fill="#000"/>
<text x="632.7" y="389.8" font-size="8.67" text-anchor="start" font-weight="bold" fill="#c0101a" >Necessary</text>
<path d="M687.9999999999999,381.34999999999997 L701.8000000000001,394.34999999999997 M701.8000000000001,381.34999999999997 L687.9999999999999,394.34999999999997" stroke="#b41c2a" stroke-width="3.5" stroke-linecap="butt"/>
<text x="708.3" y="391.04999999999995" font-size="9.2" text-anchor="start" font-weight="normal" fill="#32329a" stroke="#32329a" stroke-width="0.2">Prohibited</text>
<text x="425" y="608.6" font-size="10.45" text-anchor="start" font-weight="bold" fill="#32329a" >&lt;Prohibitions&gt;</text>
<rect x="429.6" y="616.4" width="1.9" height="1.9" fill="#32329a"/>
<rect x="429.6" y="640.0" width="1.9" height="1.9" fill="#32329a"/>
<rect x="429.6" y="663.4" width="1.9" height="1.9" fill="#32329a"/>
<text x="436" y="621" font-size="10.75" text-anchor="start" font-weight="bold" fill="#32329a" >Upload/Publish this product (avatar, clothing and any</text>
<text x="435" y="633" font-size="10.75" text-anchor="start" font-weight="bold" fill="#32329a" >components) on VRoid Hub with settings other than view-only.</text>
<text x="436" y="644.6" font-size="10.75" text-anchor="start" font-weight="bold" fill="#32329a" >Make the model using the clothing texture of this product in</text>
<text x="434.4" y="656" font-size="10.75" text-anchor="start" font-weight="bold" fill="#32329a" >VRCHAT &quot;pedestal&quot;.</text>
<text x="436" y="668" font-size="10.75" text-anchor="start" font-weight="bold" fill="#32329a" >False use of copyright. (Prohibition of self-made remarks)</text>
<path d="M394.3,631.3 L407.7,644.7 M407.7,631.3 L394.3,644.7" stroke="#b41c2a" stroke-width="3.2" stroke-linecap="butt"/>
<text x="425" y="692.6" font-size="10.85" text-anchor="start" font-weight="bold" fill="#c0101a" >Please let us know in advance when you use on media and/or</text>
<text x="425" y="704.6" font-size="10.85" text-anchor="start" font-weight="bold" fill="#c0101a" >in other products and Use for tangible goods that you are</text>
<text x="425" y="716.6" font-size="10.85" text-anchor="start" font-weight="bold" fill="#c0101a" >planning to sell. And please you send us the URL that you use</text>
<text x="425" y="728.6" font-size="10.85" text-anchor="start" font-weight="bold" fill="#c0101a" >for selling goods or illustrations. Also, please add the credits</text>
<text x="428" y="740.6" font-size="10.85" text-anchor="start" font-weight="bold" fill="#c0101a" >you indicate.</text>
<path d="M400.5,696 L411,714.6 L390,714.6Z" fill="#f2dd3a" stroke="#000" stroke-width="1.5" stroke-linejoin="round"/>
<path d="M399.3,702.324 H401.7 L401.2,709.392 H399.8Z" fill="#000"/><circle cx="400.5" cy="711.624" r="1.1" fill="#000"/>
<line x1="66.2" y1="71.05" x2="66.2" y2="201.35" stroke="#111" stroke-width="1.5"/>
<line x1="210.6" y1="71.05" x2="210.6" y2="201.35" stroke="#111" stroke-width="1.5"/>
<line x1="283.3" y1="71.05" x2="283.3" y2="201.35" stroke="#111" stroke-width="1.5"/>
<line x1="65.45" y1="71.8" x2="284.05" y2="71.8" stroke="#111" stroke-width="1.5"/>
<line x1="65.45" y1="96.0" x2="284.05" y2="96.0" stroke="#111" stroke-width="1.5"/>
<line x1="65.45" y1="160.7" x2="284.05" y2="160.7" stroke="#111" stroke-width="1.5"/>
<line x1="65.45" y1="200.6" x2="284.05" y2="200.6" stroke="#111" stroke-width="1.5"/>
<line x1="66.2" y1="215.45" x2="66.2" y2="357.05" stroke="#111" stroke-width="1.5"/>
<line x1="138.5" y1="215.45" x2="138.5" y2="357.05" stroke="#111" stroke-width="1.5"/>
<line x1="210.6" y1="215.45" x2="210.6" y2="357.05" stroke="#111" stroke-width="1.5"/>
<line x1="283.3" y1="215.45" x2="283.3" y2="357.05" stroke="#111" stroke-width="1.5"/>
<line x1="65.45" y1="216.2" x2="284.05" y2="216.2" stroke="#111" stroke-width="1.5"/>
<line x1="65.45" y1="272.5" x2="284.05" y2="272.5" stroke="#111" stroke-width="1.5"/>
<line x1="65.45" y1="333.9" x2="284.05" y2="333.9" stroke="#111" stroke-width="1.5"/>
<line x1="65.45" y1="356.3" x2="284.05" y2="356.3" stroke="#111" stroke-width="1.5"/>
<line x1="66.2" y1="369.75" x2="66.2" y2="488.75" stroke="#111" stroke-width="1.5"/>
<line x1="138.5" y1="369.75" x2="138.5" y2="488.75" stroke="#111" stroke-width="1.5"/>
<line x1="210.6" y1="369.75" x2="210.6" y2="488.75" stroke="#111" stroke-width="1.5"/>
<line x1="283.3" y1="369.75" x2="283.3" y2="488.75" stroke="#111" stroke-width="1.5"/>
<line x1="65.45" y1="370.5" x2="284.05" y2="370.5" stroke="#111" stroke-width="1.5"/>
<line x1="65.45" y1="404.7" x2="284.05" y2="404.7" stroke="#111" stroke-width="1.5"/>
<line x1="65.45" y1="466.7" x2="284.05" y2="466.7" stroke="#111" stroke-width="1.5"/>
<line x1="65.45" y1="488.0" x2="284.05" y2="488.0" stroke="#111" stroke-width="1.5"/>
<line x1="66.2" y1="499.25" x2="66.2" y2="662.45" stroke="#111" stroke-width="1.5"/>
<line x1="138.5" y1="499.25" x2="138.5" y2="662.45" stroke="#111" stroke-width="1.5"/>
<line x1="210.6" y1="499.25" x2="210.6" y2="662.45" stroke="#111" stroke-width="1.5"/>
<line x1="283.3" y1="499.25" x2="283.3" y2="662.45" stroke="#111" stroke-width="1.5"/>
<line x1="355.5" y1="499.25" x2="355.5" y2="662.45" stroke="#111" stroke-width="1.5"/>
<line x1="65.45" y1="500.0" x2="356.25" y2="500.0" stroke="#111" stroke-width="1.5"/>
<line x1="65.45" y1="579.2" x2="356.25" y2="579.2" stroke="#111" stroke-width="1.5"/>
<line x1="65.45" y1="640.8" x2="356.25" y2="640.8" stroke="#111" stroke-width="1.5"/>
<line x1="65.45" y1="661.7" x2="356.25" y2="661.7" stroke="#111" stroke-width="1.5"/>
<line x1="66.2" y1="675.85" x2="66.2" y2="803.15" stroke="#111" stroke-width="1.5"/>
<line x1="139.4" y1="675.85" x2="139.4" y2="803.15" stroke="#111" stroke-width="1.5"/>
<line x1="211.5" y1="675.85" x2="211.5" y2="803.15" stroke="#111" stroke-width="1.5"/>
<line x1="65.45" y1="676.6" x2="212.25" y2="676.6" stroke="#111" stroke-width="1.5"/>
<line x1="65.45" y1="720.0" x2="212.25" y2="720.0" stroke="#111" stroke-width="1.5"/>
<line x1="65.45" y1="783.0" x2="212.25" y2="783.0" stroke="#111" stroke-width="1.5"/>
<line x1="65.45" y1="802.4" x2="212.25" y2="802.4" stroke="#111" stroke-width="1.5"/>
<line x1="381.8" y1="71.45" x2="381.8" y2="236.75" stroke="#111" stroke-width="1.5"/>
<line x1="454.0" y1="71.45" x2="454.0" y2="236.75" stroke="#111" stroke-width="1.5"/>
<line x1="526.6" y1="71.45" x2="526.6" y2="236.75" stroke="#111" stroke-width="1.5"/>
<line x1="599.5" y1="71.45" x2="599.5" y2="236.75" stroke="#111" stroke-width="1.5"/>
<line x1="671.4" y1="71.45" x2="671.4" y2="236.75" stroke="#111" stroke-width="1.5"/>
<line x1="381.05" y1="72.2" x2="672.15" y2="72.2" stroke="#111" stroke-width="1.5"/>
<line x1="381.05" y1="139.5" x2="672.15" y2="139.5" stroke="#111" stroke-width="1.5"/>
<line x1="381.05" y1="202.5" x2="672.15" y2="202.5" stroke="#111" stroke-width="1.5"/>
<line x1="381.05" y1="236.0" x2="672.15" y2="236.0" stroke="#111" stroke-width="1.5"/>
<line x1="381.3" y1="257.45" x2="381.3" y2="485.35" stroke="#111" stroke-width="1.5"/>
<line x1="453.5" y1="257.45" x2="453.5" y2="485.35" stroke="#111" stroke-width="1.5"/>
<line x1="526.0" y1="257.45" x2="526.0" y2="485.35" stroke="#111" stroke-width="1.5"/>
<line x1="596.5" y1="257.45" x2="596.5" y2="485.35" stroke="#111" stroke-width="1.5"/>
<line x1="380.55" y1="258.2" x2="597.25" y2="258.2" stroke="#111" stroke-width="1.5"/>
<line x1="380.55" y1="403.4" x2="597.25" y2="403.4" stroke="#111" stroke-width="1.5"/>
<line x1="380.55" y1="464.6" x2="597.25" y2="464.6" stroke="#111" stroke-width="1.5"/>
<line x1="380.55" y1="484.6" x2="597.25" y2="484.6" stroke="#111" stroke-width="1.5"/>
<line x1="609.7" y1="258.25" x2="609.7" y2="398.25" stroke="#111" stroke-width="1.5"/>
<line x1="682.0" y1="258.25" x2="682.0" y2="398.25" stroke="#111" stroke-width="1.5"/>
<line x1="755.4" y1="258.25" x2="755.4" y2="398.25" stroke="#111" stroke-width="1.5"/>
<line x1="608.95" y1="259.0" x2="756.15" y2="259.0" stroke="#111" stroke-width="1.5"/>
<line x1="608.95" y1="315.5" x2="756.15" y2="315.5" stroke="#111" stroke-width="1.5"/>
<line x1="608.95" y1="377.4" x2="756.15" y2="377.4" stroke="#111" stroke-width="1.5"/>
<line x1="608.95" y1="397.5" x2="756.15" y2="397.5" stroke="#111" stroke-width="1.5"/>
<line x1="381.0" y1="520.75" x2="381.0" y2="757.65" stroke="#111" stroke-width="1.5"/>
<line x1="757.5" y1="520.75" x2="757.5" y2="757.65" stroke="#111" stroke-width="1.5"/>
<line x1="380.25" y1="521.5" x2="758.25" y2="521.5" stroke="#111" stroke-width="1.5"/>
<line x1="380.25" y1="533.5" x2="758.25" y2="533.5" stroke="#111" stroke-width="1.5"/>
<line x1="380.25" y1="595.1" x2="758.25" y2="595.1" stroke="#111" stroke-width="1.5"/>
<line x1="380.25" y1="756.9" x2="758.25" y2="756.9" stroke="#111" stroke-width="1.5"/>
</svg></body></html>
